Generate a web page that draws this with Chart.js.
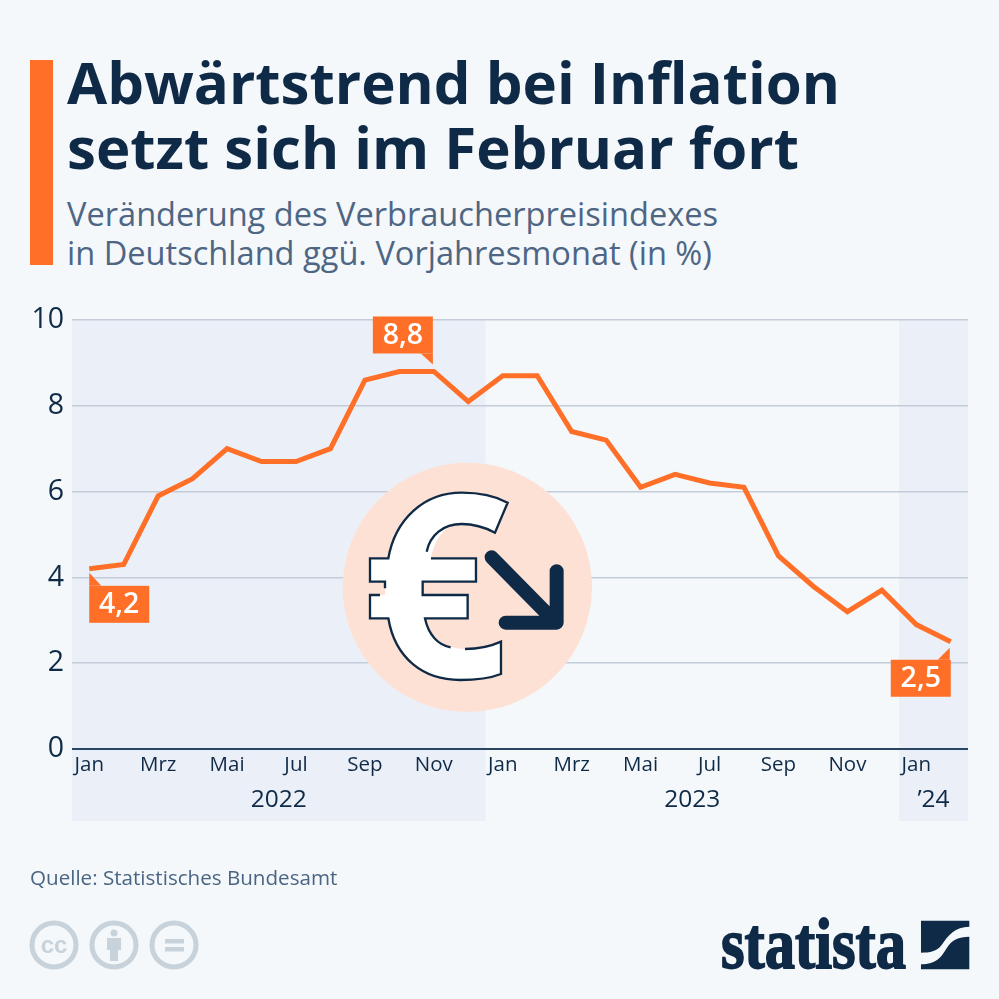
<!DOCTYPE html>
<html lang="de">
<head>
<meta charset="utf-8">
<title>Abwärtstrend bei Inflation</title>
<script src="https://cdn.jsdelivr.net/npm/chart.js@4"></script>
<style>
    html, body { margin: 0; padding: 0; background: #f4f8fb; }
    body { position: relative; width: 999px; height: 999px; overflow: hidden; font-family: "Open Sans", sans-serif; }
    canvas { position: absolute; left: 0; top: 0; }
    svg { position: absolute; left: 0; top: 0; }
    .text { position: absolute; white-space: nowrap; }
    #accent { position: absolute; left: 30px; top: 60px; width: 23px; height: 205px; background: #ff6f27; }
    #title { left: 67px; top: 49px; font-size: 58.2px; line-height: 65px; font-weight: 700; color: #0f2a47; }
    #subtitle { left: 67px; top: 194px; font-size: 32.6px; line-height: 39px; color: #4e6684; }
    #source { left: 30px; top: 864px; font-size: 20.6px; line-height: 26px; color: #4a6583; }
</style>
</head>
<body>
<div id="accent"></div>
<div id="title" class="text">Abwärtstrend bei Inflation<br>setzt sich im Februar fort</div>
<div id="subtitle" class="text">Veränderung des Verbraucherpreisindexes<br>in Deutschland ggü. Vorjahresmonat (in %)</div>
<canvas id="chart" width="999" height="999"></canvas>
<svg width="999" height="999" viewBox="0 0 999 999">
    <!-- euro icon, traced in 3x crop units -->
    <g transform="translate(330 450) scale(0.3333)">
        <circle cx="412" cy="412" r="374" fill="#fde1d4"/>
        <path fill="#fff" d="M533,158 C490,135 440,128 395,128 C280,128 195,210 175,325 H120 V395 H165 V435 H120 V505 H175 C195,625 280,690 390,690 C435,690 480,685 513,672 V575 C480,590 440,597 405,597 C345,597 300,565 285,505 H413 V435 H278 V395 H438 V325 H303 C315,260 350,222 395,222 C430,222 465,232 495,248 Z"/>
        <path fill="none" stroke="#0f2a47" stroke-width="7" d="M165,415 V395 H120 V325 H175 C195,210 280,128 395,128 C440,128 490,135 533,158 L495,248 C465,232 430,222 395,222 C340,222 300,255 290,305 M303,325 H438 V395 H278 V435 H413 V505 H285 C295,555 325,585 362,592 M405,597 C440,597 480,590 513,575 V672 C480,685 435,690 390,690 C280,690 195,625 175,505 H120 V435 H150"/>
        <path fill="none" stroke="#0f2a47" stroke-width="42" stroke-linecap="round" stroke-linejoin="round" d="M485,322 L672,512 M680,364 V518 H527"/>
    </g>
    <!-- cc icons -->
    <g fill="none" stroke="#c7d2da" stroke-width="5">
        <circle cx="54" cy="945" r="22"/>
        <circle cx="114" cy="945" r="22"/>
        <circle cx="174" cy="945" r="22"/>
    </g>
    <text x="54" y="953" text-anchor="middle" font-family="Liberation Sans" font-weight="700" font-size="24" fill="#c7d2da">cc</text>
    <g fill="#c7d2da">
        <circle cx="114" cy="933" r="3.5"/>
        <path d="M107,938 H121 V950 H118 V961 H110 V950 H107 Z"/>
        <rect x="165" y="939" width="19" height="4.5"/>
        <rect x="165" y="947" width="19" height="4.5"/>
    </g>
    <!-- statista logo -->
    <text x="721" y="968" font-family="Liberation Sans Narrow" font-weight="700" font-size="72" textLength="185" lengthAdjust="spacingAndGlyphs" fill="#0f2a47" stroke="#0f2a47" stroke-width="1.8">statista</text>
    <g transform="translate(700 620) scale(0.3333)" fill="#0f2a47">
        <path d="M663,902 H808 V920 C765,920 745,945 725,975 C710,995 690,998 663,998 Z"/>
        <path d="M808,950 V1048 H663 V1033 C710,1033 725,1010 740,985 C755,960 775,950 808,950 Z"/>
    </g>
</svg>
<div id="source" class="text">Quelle: Statistisches Bundesamt</div>
<script>
    'use strict';

    var months = ['Jan', 'Feb', 'Mrz', 'Apr', 'Mai', 'Jun', 'Jul', 'Aug', 'Sep', 'Okt', 'Nov', 'Dez',
        'Jan', 'Feb', 'Mrz', 'Apr', 'Mai', 'Jun', 'Jul', 'Aug', 'Sep', 'Okt', 'Nov', 'Dez',
        'Jan', 'Feb'];
    var inflation = [4.2, 4.3, 5.9, 6.3, 7.0, 6.7, 6.7, 7.0, 8.6, 8.8, 8.8, 8.1,
        8.7, 8.7, 7.4, 7.2, 6.1, 6.4, 6.2, 6.1, 4.5, 3.8, 3.2, 3.7,
        2.9, 2.5];
    var yearLabels = ['2022', '2023', '’24'];
    var yearLengths = [12, 12, 2];
    var calloutIndexes = [0, 10, 25];
    var yTicks = [0, 2, 4, 6, 8, 10];

    var navy = '#0f2a47';
    var orange = '#ff6f27';
    var fontFamily = '"Open Sans", sans-serif';

    // alternating year bands, they run down past the axis to hold the year labels
    var yearBands = {
        id: 'yearBands',
        beforeDraw: function (chart) {
            var ctx = chart.ctx;
            var x = chart.scales.x;
            var step = x.getPixelForValue(1) - x.getPixelForValue(0);
            var first = 0;
            ctx.save();
            yearLabels.forEach(function (label, i) {
                var left = x.getPixelForValue(first) - step / 2;
                var right = left + step * yearLengths[i];
                if (i % 2 === 0) {
                    ctx.fillStyle = '#ebf0f8';
                    ctx.fillRect(left, chart.chartArea.top, right - left, 501);
                }
                ctx.fillStyle = navy;
                ctx.font = '24.5px ' + fontFamily;
                ctx.textAlign = 'center';
                ctx.textBaseline = 'middle';
                ctx.fillText(label, (left + right) / 2, 800);
                first += yearLengths[i];
            });
            ctx.restore();
        }
    };

    // box offsets from the data point, and the corner the pointer leaves from
    var calloutShapes = [
        { dx: 0, dy: 17, pointer: [[0, 4], [0, 17], [12, 17]] },
        { dx: -61, dy: -55, pointer: [[-1, -7], [-1, -18], [-13, -18]] },
        { dx: -60, dy: 18, pointer: [[-1, 6], [-1, 18], [-13, 18]] }
    ];

    var callouts = {
        id: 'callouts',
        afterDatasetsDraw: function (chart) {
            var ctx = chart.ctx;
            var points = chart.getDatasetMeta(0).data;
            ctx.save();
            calloutIndexes.forEach(function (index, i) {
                var p = points[index];
                var shape = calloutShapes[i];
                var left = p.x + shape.dx;
                var top = p.y + shape.dy;
                ctx.fillStyle = orange;
                ctx.fillRect(left, top, 60, 37);
                ctx.beginPath();
                shape.pointer.forEach(function (c, n) {
                    if (n === 0) ctx.moveTo(p.x + c[0], p.y + c[1]);
                    else ctx.lineTo(p.x + c[0], p.y + c[1]);
                });
                ctx.closePath();
                ctx.fill();
                ctx.fillStyle = '#ffffff';
                ctx.font = '600 28.5px ' + fontFamily;
                ctx.textAlign = 'center';
                ctx.textBaseline = 'middle';
                ctx.fillText(String(inflation[index]).replace('.', ','), left + 30, top + 19);
            });
            ctx.restore();
        }
    };

    new Chart(document.getElementById('chart'), {
        type: 'line',
        data: {
            labels: months,
            datasets: [{
                data: inflation,
                borderColor: orange,
                borderWidth: 5,
                pointRadius: 0,
                tension: 0,
                clip: false
            }]
        },
        options: {
            responsive: false,
            animation: false,
            layout: { padding: { left: 0, top: 320, right: 31, bottom: 220 } },
            plugins: { legend: { display: false }, tooltip: { enabled: false } },
            scales: {
                x: {
                    type: 'category',
                    offset: true,
                    afterFit: function (scale) { scale.height = 30; },
                    border: { display: false },
                    grid: { display: false, drawTicks: false, tickLength: 0 },
                    ticks: {
                        autoSkip: false,
                        maxRotation: 0,
                        padding: 4,
                        color: navy,
                        font: { family: fontFamily, size: 20.5 },
                        callback: function (value, index) {
                            return index % 2 === 0 ? months[index] : '';
                        }
                    }
                },
                y: {
                    min: 0,
                    max: 10,
                    afterFit: function (scale) { scale.width = 72; },
                    afterBuildTicks: function (scale) {
                        scale.ticks = yTicks.map(function (v) { return { value: v }; });
                    },
                    border: { display: false },
                    grid: {
                        drawTicks: false,
                        lineWidth: function (c) { return c.tick.value === 0 ? 2 : 1.5; },
                        color: function (c) { return c.tick.value === 0 ? '#2a4562' : '#c3ccd8'; }
                    },
                    ticks: {
                        padding: 8,
                        color: navy,
                        font: { family: fontFamily, size: 28.5 }
                    }
                }
            }
        },
        plugins: [yearBands, callouts]
    });
</script>
</body>
</html>
